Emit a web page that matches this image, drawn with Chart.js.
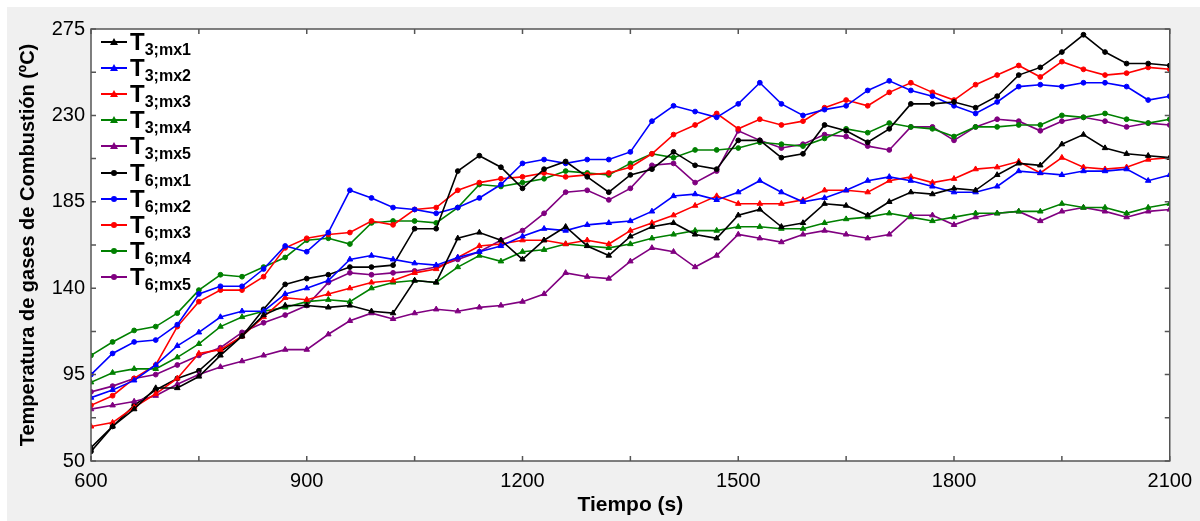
<!DOCTYPE html>
<html>
<head>
<meta charset="utf-8">
<script src="https://cdn.jsdelivr.net/npm/chart.js@4.4.1/dist/chart.umd.min.js"></script>
<style>
  html, body { margin: 0; padding: 0; background: #fff; }
  #wrap { position: relative; width: 1200px; height: 521px; overflow: hidden; }
  #bg { position: absolute; left: 7px; top: 7px; right: 0; bottom: 0; background: #f0f0f0; }
  #chart { position: absolute; left: 0; top: 0; }
  #legend { position: absolute; left: 0; top: 0; font-family: "Liberation Sans", Arial, sans-serif; font-weight: bold; color: #000; }
  .swatch { position: absolute; width: 26px; height: 2px; }
  .mark { position: absolute; }
  .lbl { position: absolute; font-size: 24px; line-height: 24px; white-space: nowrap; }
  .lbl span { font-size: 16px; position: relative; top: 5px; }
</style>
</head>
<body>
<div id="wrap">
  <div id="bg"></div>
  <canvas id="chart" width="1200" height="521"></canvas>
  <div id="legend"></div>
</div>
<script>
// time axis (s)
const times = [600, 630, 660, 690, 720, 750, 780, 810, 840, 870, 900, 930, 960, 990, 1020, 1050, 1080,
  1110, 1140, 1170, 1200, 1230, 1260, 1290, 1320, 1350, 1380, 1410, 1440, 1470, 1500, 1530, 1560, 1590,
  1620, 1650, 1680, 1710, 1740, 1770, 1800, 1830, 1860, 1890, 1920, 1950, 1980, 2010, 2040, 2070, 2100];

// T3 series (triangles)
const t3mx1 = [57, 68, 77, 88, 88, 94, 105, 115, 126, 131, 131, 130, 131, 128, 127, 144, 143, 166, 169, 165,
  155, 165, 172, 162, 157, 167, 172, 174, 168, 166, 178, 181, 172, 174, 184, 183, 178, 185, 190, 189,
  192, 191, 199, 205, 204, 215, 220, 213, 210, 209, 208];
const t3mx2 = [83, 87, 92, 100, 110, 117, 125, 128, 128, 137, 140, 144, 155, 157, 155, 153, 152, 156, 159, 162,
  167, 171, 170, 173, 174, 175, 180, 188, 189, 186, 190, 196, 190, 185, 187, 191, 196, 198, 196, 193,
  190, 190, 193, 201, 200, 199, 201, 201, 202, 196, 199];
const t3mx3 = [68, 70, 78, 85, 93, 106, 108, 115, 125, 135, 134, 137, 140, 143, 144, 148, 150, 156, 162, 163,
  165, 165, 163, 165, 163, 170, 174, 178, 183, 188, 184, 184, 184, 186, 191, 191, 190, 196, 198, 195,
  197, 202, 203, 206, 200, 208, 203, 202, 203, 207, 208];
const t3mx4 = [91, 96, 98, 98, 104, 111, 120, 125, 128, 130, 133, 134, 133, 140, 143, 144, 143, 151, 157, 154,
  159, 160, 163, 162, 161, 163, 166, 168, 170, 170, 172, 172, 171, 171, 174, 176, 177, 179, 177, 175,
  177, 179, 179, 180, 180, 184, 182, 182, 179, 182, 184];
const t3mx5 = [77, 79, 81, 84, 90, 95, 99, 102, 105, 108, 108, 116, 123, 127, 124, 127, 129, 128, 130, 131,
  133, 137, 148, 146, 145, 154, 161, 159, 151, 157, 168, 166, 164, 168, 170, 168, 166, 168, 178, 178,
  173, 177, 179, 180, 175, 180, 182, 180, 177, 180, 181];

// T6 series (circles)
const t6mx1 = [55, 68, 79, 87, 93, 97, 107, 115, 129, 142, 145, 147, 151, 151, 152, 171, 171, 201, 209, 203,
  192, 202, 206, 198, 190, 199, 202, 211, 204, 202, 217, 217, 208, 210, 225, 222, 216, 223, 236, 236,
  237, 234, 240, 251, 255, 263, 272, 263, 257, 257, 256];
const t6mx2 = [95, 106, 112, 113, 121, 137, 141, 141, 150, 162, 159, 169, 191, 187, 182, 181, 179, 182, 187, 194,
  205, 207, 205, 207, 207, 211, 227, 235, 232, 229, 236, 247, 236, 230, 233, 235, 243, 248, 243, 240,
  235, 231, 237, 245, 246, 245, 247, 247, 245, 238, 240];
const t6mx3 = [79, 84, 93, 100, 120, 133, 139, 139, 146, 161, 166, 168, 169, 175, 173, 181, 182, 191, 195, 197,
  198, 200, 198, 199, 200, 203, 210, 220, 225, 231, 223, 228, 225, 227, 234, 238, 235, 242, 247, 242,
  238, 246, 251, 256, 250, 258, 254, 251, 252, 255, 254];
const t6mx4 = [105, 112, 118, 120, 127, 139, 147, 146, 151, 156, 165, 166, 163, 174, 175, 175, 174, 182, 194, 193,
  195, 197, 201, 200, 199, 205, 210, 208, 212, 212, 213, 216, 215, 214, 218, 223, 221, 226, 224, 223,
  219, 224, 224, 225, 225, 230, 229, 231, 228, 226, 228];
const t6mx5 = [86, 89, 93, 95, 100, 105, 109, 117, 122, 126, 131, 143, 148, 147, 148, 149, 151, 155, 159, 165,
  170, 179, 190, 191, 186, 192, 204, 205, 195, 201, 222, 217, 213, 215, 220, 219, 214, 212, 224, 224,
  217, 224, 228, 227, 222, 227, 229, 227, 224, 226, 225];

const legendLabels = ['T3;mx1', 'T3;mx2', 'T3;mx3', 'T3;mx4', 'T3;mx5',
  'T6;mx1', 'T6;mx2', 'T6;mx3', 'T6;mx4', 'T6;mx5'];
const colors = ['#000000', '#0000ff', '#ff0000', '#008000', '#800080'];

const xMajor = [600, 900, 1200, 1500, 1800, 2100];
const xMinor = [750, 1050, 1350, 1650, 1950];
const yMajor = [50, 95, 140, 185, 230, 275];
const yMinor = [72.5, 117.5, 162.5, 207.5, 252.5];

const series = [t3mx1, t3mx2, t3mx3, t3mx4, t3mx5, t6mx1, t6mx2, t6mx3, t6mx4, t6mx5];
const FONT = '"Liberation Sans", Arial, sans-serif';

const datasets = series.map((vals, i) => ({
  label: legendLabels[i],
  data: vals.map((v, j) => ({ x: times[j], y: v })),
  borderColor: colors[i % 5],
  backgroundColor: colors[i % 5],
  borderWidth: 1.6,
  pointStyle: i < 5 ? 'triangle' : 'circle',
  pointRadius: i < 5 ? 3.2 : 2.4,
  pointBorderWidth: 1,
  tension: 0
}));

// white plot area, frame and inward ticks on all four sides
const frame = {
  id: 'frame',
  beforeDraw(chart) {
    const { ctx, chartArea: a } = chart;
    ctx.save();
    ctx.fillStyle = '#fff';
    ctx.fillRect(a.left, a.top, a.right - a.left, a.bottom - a.top);
    ctx.restore();
  },
  afterDatasetsDraw(chart) {
    const { ctx, chartArea: a, scales } = chart;
    const len = 5;
    ctx.save();
    ctx.strokeStyle = '#555';
    ctx.lineWidth = 1.5;
    ctx.beginPath();
    xMajor.concat(xMinor).forEach(v => {
      const px = scales.x.getPixelForValue(v);
      ctx.moveTo(px, a.bottom); ctx.lineTo(px, a.bottom - len);
      ctx.moveTo(px, a.top); ctx.lineTo(px, a.top + len);
    });
    yMajor.concat(yMinor).forEach(v => {
      const py = scales.y.getPixelForValue(v);
      ctx.moveTo(a.left, py); ctx.lineTo(a.left + len, py);
      ctx.moveTo(a.right, py); ctx.lineTo(a.right - len, py);
    });
    ctx.stroke();
    ctx.strokeRect(a.left, a.top, a.right - a.left, a.bottom - a.top);
    ctx.restore();
  }
};

const ctx = document.getElementById('chart').getContext('2d');
const chart = new Chart(ctx, {
  type: 'line',
  data: { datasets },
  options: {
    responsive: false,
    animation: false,
    devicePixelRatio: 1,
    layout: { padding: { left: 12, top: 29, right: 27, bottom: 1 } },
    plugins: { legend: { display: false }, tooltip: { enabled: false } },
    scales: {
      x: {
        type: 'linear', min: 600, max: 2100,
        ticks: { stepSize: 300, color: '#000', font: { family: FONT, size: 20 }, padding: 8, maxRotation: 0,
          callback: v => String(v) },
        grid: { display: false, drawTicks: false },
        border: { display: false },
        title: { display: true, text: 'Tiempo (s)', color: '#000',
          font: { family: FONT, size: 21, weight: 'bold' }, padding: { top: 0, bottom: 2 } },
        afterFit: s => { s.height = 59; }
      },
      y: {
        min: 50, max: 275,
        ticks: { stepSize: 45, color: '#000', font: { family: FONT, size: 20 }, padding: 6,
          callback: v => String(v) },
        grid: { display: false, drawTicks: false },
        border: { display: false },
        title: { display: true, text: 'Temperatura de gases de Combustión (ºC)', color: '#000',
          font: { family: FONT, size: 20, weight: 'bold' }, padding: { top: 4, bottom: 0 } },
        afterFit: s => { s.width = 79; }
      }
    }
  },
  plugins: [frame]
});

// HTML legend with subscripts
const legend = document.getElementById('legend');
legendLabels.forEach((name, i) => {
  const lineY = 42 + i * 26.1;
  const col = colors[i % 5];
  const sw = document.createElement('div');
  sw.className = 'swatch';
  sw.style.left = '101px';
  sw.style.top = (lineY - 1) + 'px';
  sw.style.background = col;
  legend.appendChild(sw);

  const mk = document.createElement('div');
  mk.className = 'mark';
  if (i < 5) {
    mk.style.left = '110px';
    mk.style.top = (lineY - 4) + 'px';
    mk.style.borderLeft = '4px solid transparent';
    mk.style.borderRight = '4px solid transparent';
    mk.style.borderBottom = '7px solid ' + col;
  } else {
    mk.style.left = '111px';
    mk.style.top = (lineY - 3) + 'px';
    mk.style.width = '6px';
    mk.style.height = '6px';
    mk.style.borderRadius = '50%';
    mk.style.background = col;
  }
  legend.appendChild(mk);

  const lb = document.createElement('div');
  lb.className = 'lbl';
  lb.style.left = '130px';
  lb.style.top = (lineY - 12) + 'px';
  lb.innerHTML = name.charAt(0) + '<span>' + name.slice(1) + '</span>';
  legend.appendChild(lb);
});
</script>
</body>
</html>
